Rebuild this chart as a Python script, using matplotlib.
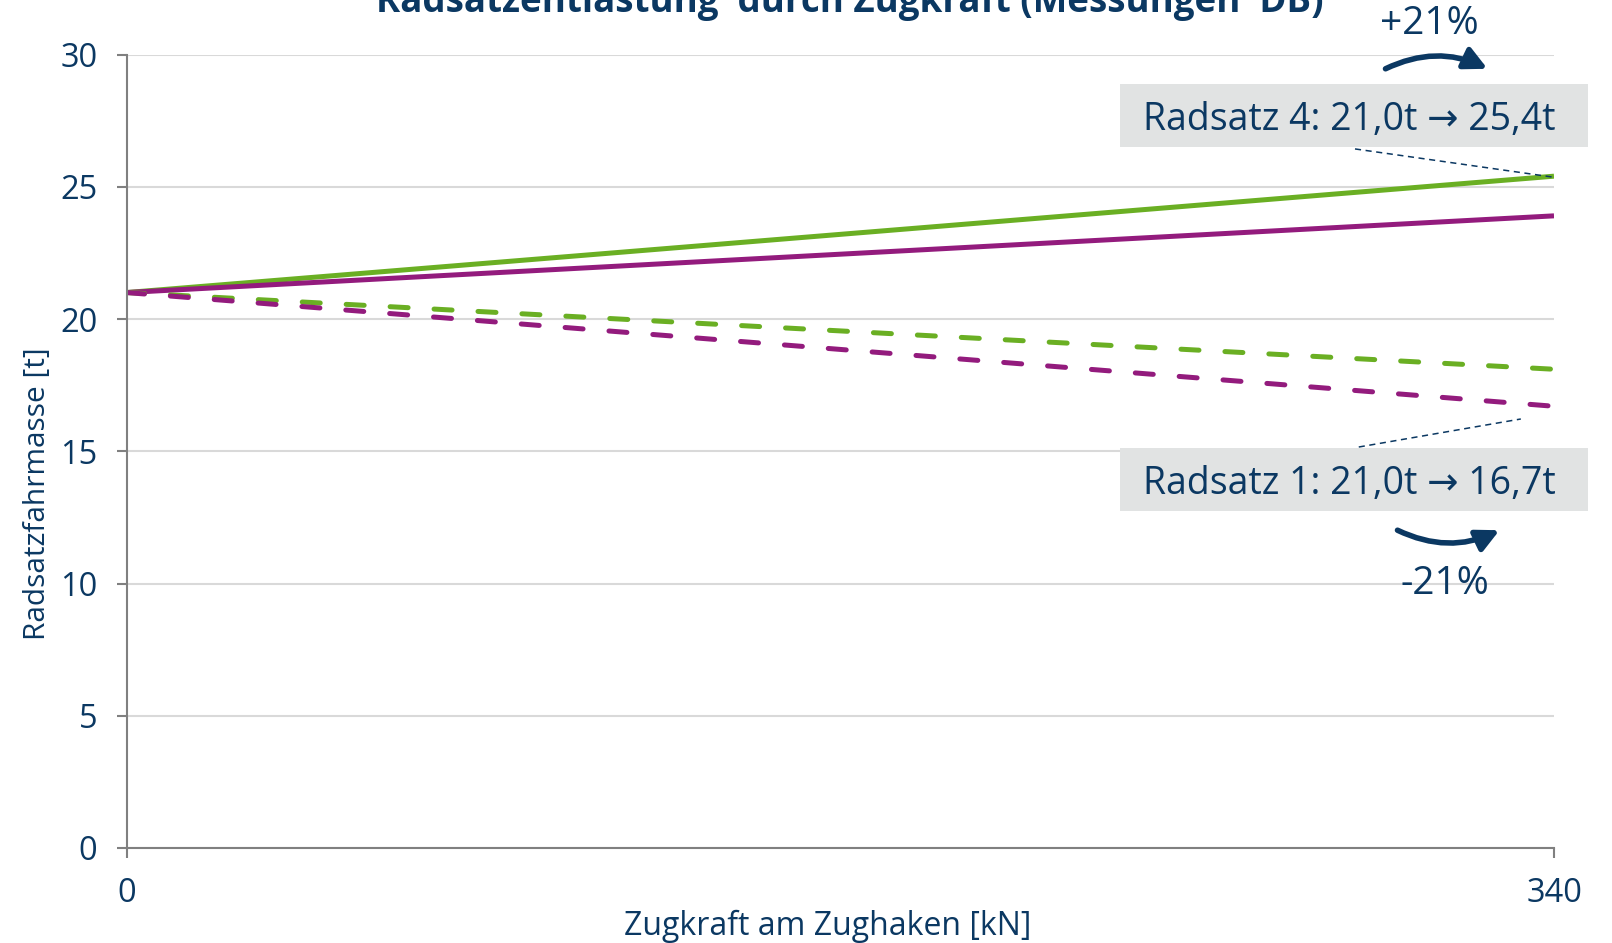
import matplotlib.pyplot as plt
from matplotlib.patches import FancyArrowPatch, Rectangle

plt.rcParams['font.family'] = ['Open Sans', 'DejaVu Sans']

NAVY = '#0b3862'
GREEN = '#6aaf23'
PURPLE = '#931b7d'

# Zugkraft [kN] und Radsatzfahrmasse [t]
zugkraft = [0, 340]
rs4_messung = [21.0, 25.4]
rs4_rechnung = [21.0, 23.9]
rs1_rechnung = [21.0, 18.1]
rs1_messung = [21.0, 16.7]
yticks = [0, 5, 10, 15, 20, 25, 30]
xticks = [0, 340]

W, H = 1612, 943
fig = plt.figure(figsize=(W / 100, H / 100), dpi=100)
ax = fig.add_axes([126.5 / W, 1 - 848 / H, 1427.5 / W, 793.5 / H])

ax.plot(zugkraft, rs4_messung, color=GREEN, lw=3.6, solid_capstyle='butt')
ax.plot(zugkraft, rs4_rechnung, color=PURPLE, lw=3.6, solid_capstyle='butt')
ax.plot(zugkraft, rs1_rechnung, color=GREEN, lw=3.6, dashes=(3.6, 5.2),
        dash_capstyle='round')
ax.plot(zugkraft, rs1_messung, color=PURPLE, lw=3.6, dashes=(3.6, 5.2),
        dash_capstyle='round')

ax.set_xlim(0, 340)
ax.set_ylim(0, 30)
ax.set_yticks(yticks)
ax.set_xticks(xticks)
ax.yaxis.grid(True, color='#d9d9d9', lw=1.5)
ax.set_axisbelow(True)
for s in ['top', 'right']:
    ax.spines[s].set_visible(False)
for s in ['left', 'bottom']:
    ax.spines[s].set_color('#808080')
    ax.spines[s].set_linewidth(1.5)
ax.tick_params(axis='both', colors='#808080', labelcolor=NAVY, labelsize=23.5,
               length=7, width=1.5, direction='out')
ax.tick_params(axis='y', pad=14)
ax.tick_params(axis='x', pad=14)

ax.set_xlabel('Zugkraft am Zughaken [kN]', fontsize=23, color=NAVY, labelpad=0)
ax.xaxis.label.set_x(0.491)
ax.set_ylabel('Radsatzfahrmasse [t]', fontsize=21.5, color=NAVY, labelpad=6)
ax.yaxis.label.set_y(0.447)

fig.text(850 / W, 1 - 2 / H, 'Radsatzentlastung  durch Zugkraft (Messungen  DB)',
         fontsize=26.5, fontweight='bold', color=NAVY, ha='center', va='center')

# Beschriftungskästen
for (ytop, txt) in [(84, 'Radsatz 4: 21,0t → 25,4t'), (448, 'Radsatz 1: 21,0t → 16,7t')]:
    fig.patches.append(Rectangle((1120 / W, 1 - (ytop + 63) / H), 468 / W, 63 / H,
                                 transform=fig.transFigure, fc='#e1e3e3', ec='none'))
    fig.text(1349 / W, 1 - (ytop + 36) / H, txt, fontsize=27, color=NAVY,
             ha='center', va='center')

# Hinweislinien
ax.plot([292.6, 339.5], [26.43, 25.37], color=NAVY, lw=1.1, ls=(0, (4, 3)),
        clip_on=False)
ax.plot([293.5, 332.1], [15.16, 16.22], color=NAVY, lw=1.1, ls=(0, (4, 3)),
        clip_on=False)

# gebogene Pfeile
for (x0, y0, x1, y1, rad) in [(1383, 70, 1490, 70, -0.25), (1395, 529, 1502, 529, 0.25)]:
    arr = FancyArrowPatch((x0 / W, 1 - y0 / H), (x1 / W, 1 - y1 / H),
                          transform=fig.transFigure,
                          connectionstyle=f'arc3,rad={rad}',
                          arrowstyle='-|>,head_length=9,head_width=4.5',
                          mutation_scale=1.5, lw=4, color=NAVY)
    fig.patches.append(arr)

fig.text(1429 / W, 1 - 24 / H, '+21%', fontsize=28, color=NAVY,
         ha='center', va='center')
fig.text(1445 / W, 1 - 584 / H, '-21%', fontsize=28, color=NAVY,
         ha='center', va='center')

fig.savefig('out.png', dpi=100)
